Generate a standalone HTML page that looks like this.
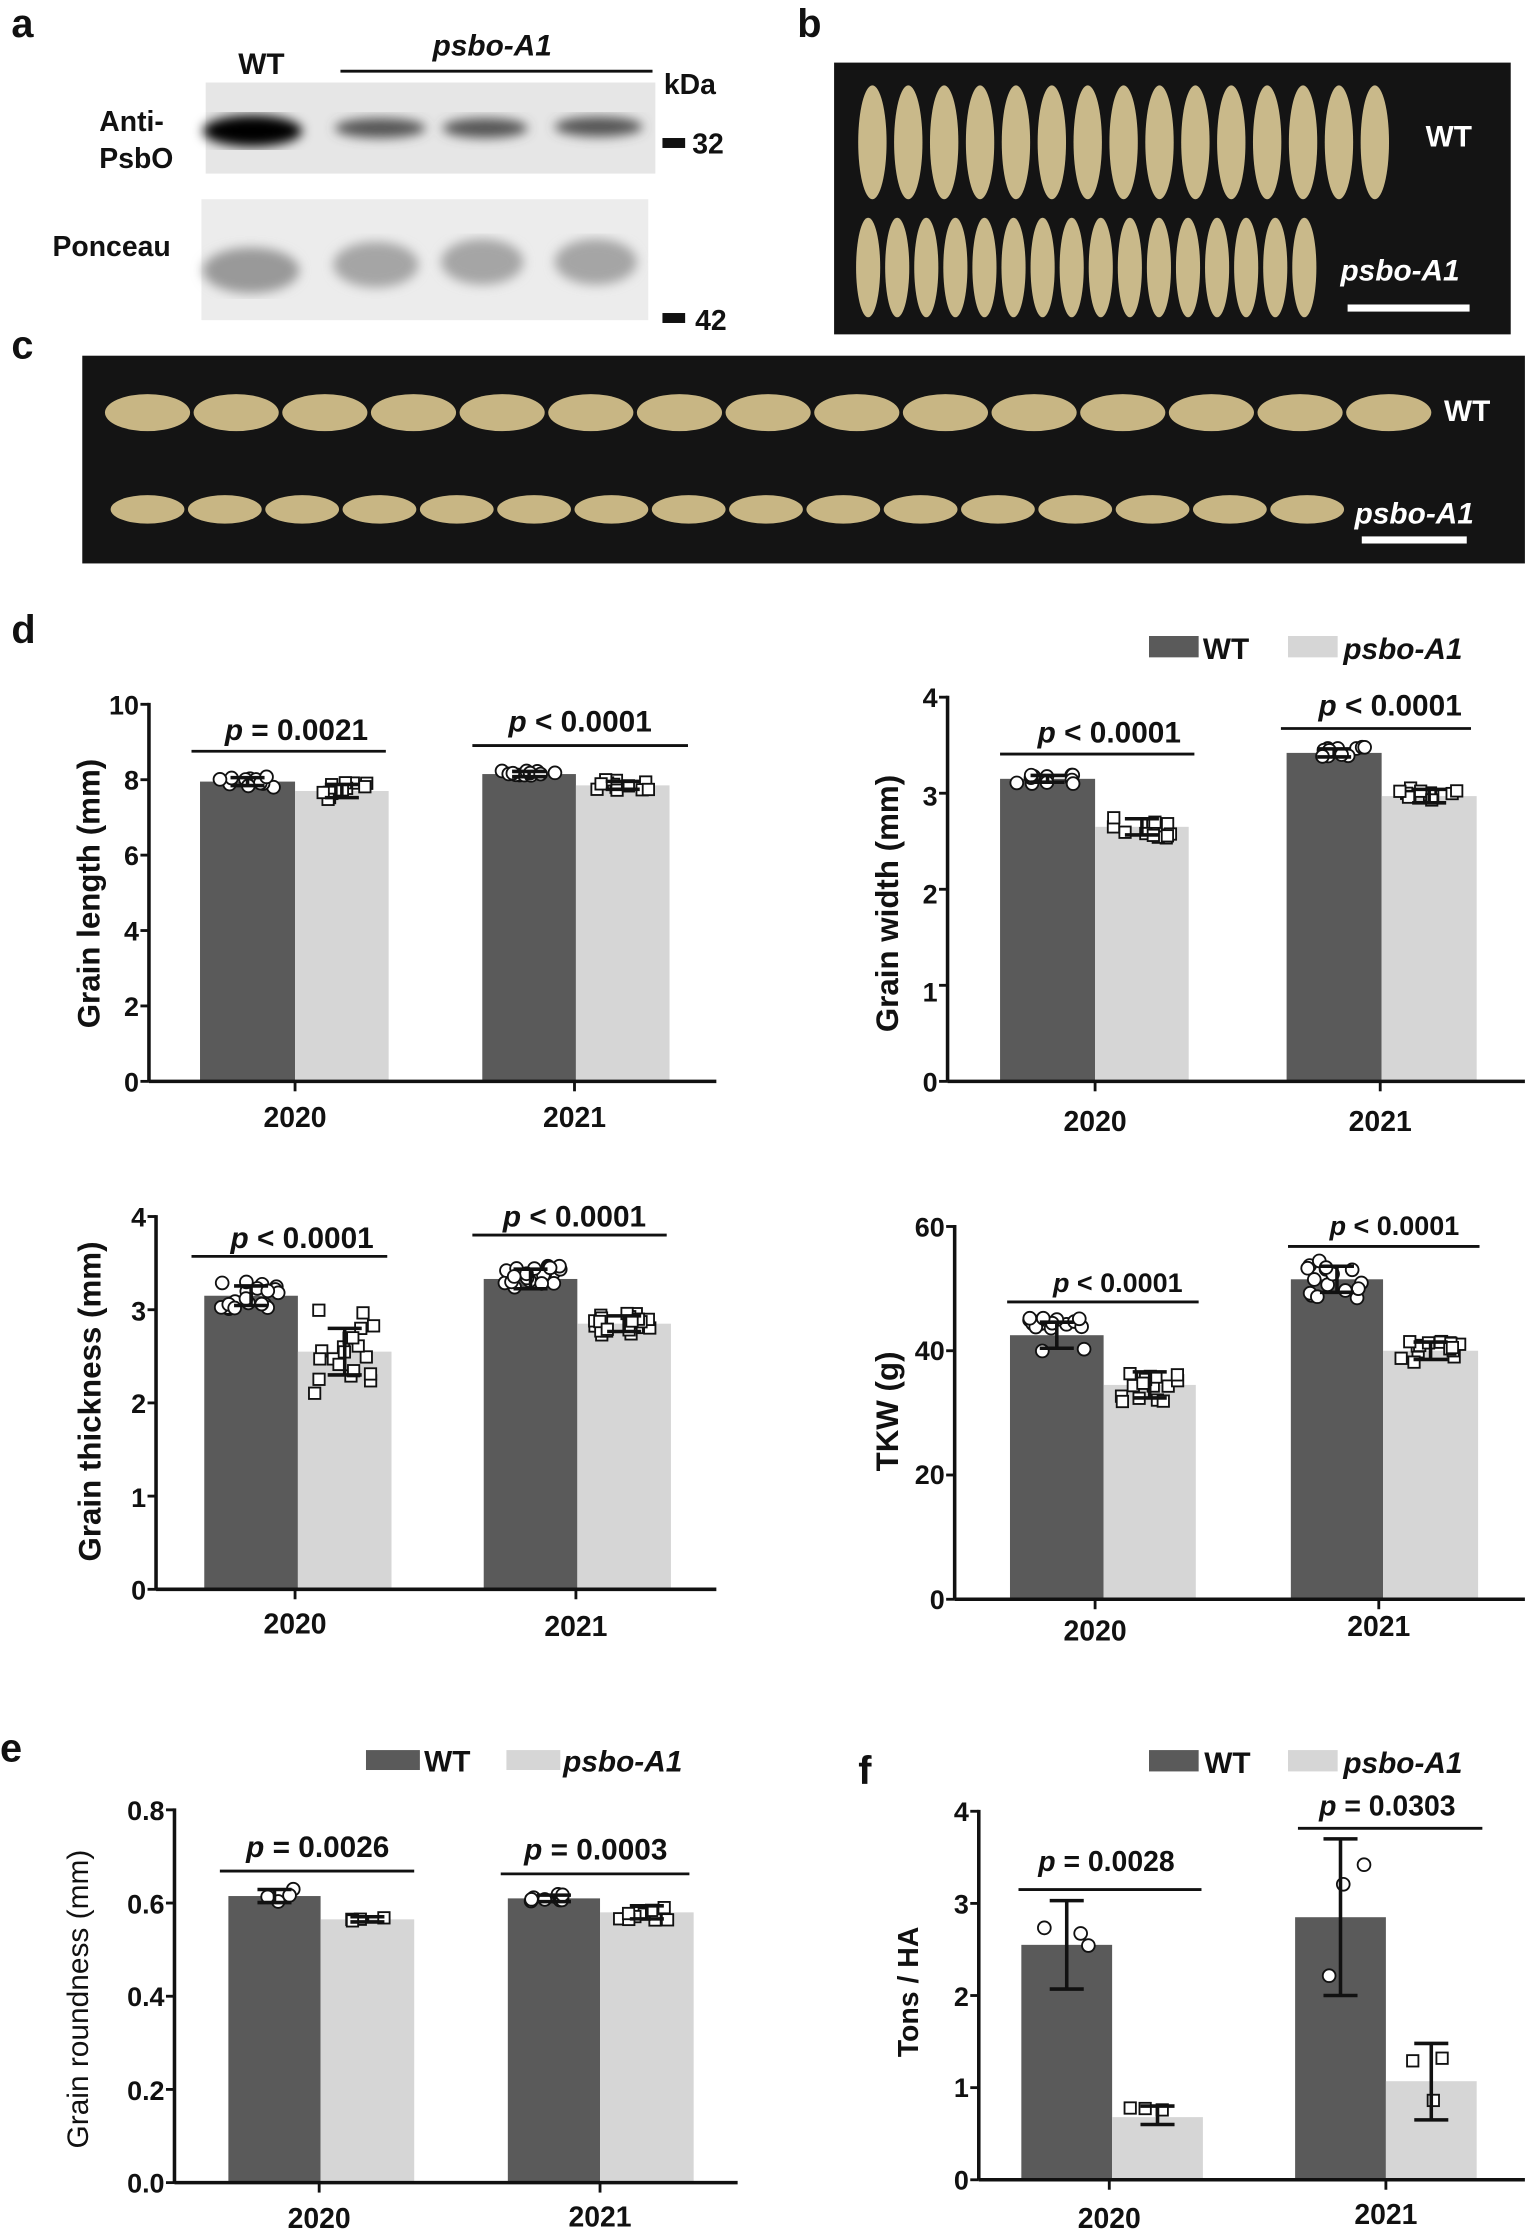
<!DOCTYPE html>
<html><head><meta charset="utf-8"><style>
html,body{margin:0;padding:0;background:#fff}
svg{display:block}
text{font-family:"Liberation Sans",Arial,sans-serif;font-weight:bold;fill:#111}
</style></head><body>
<svg id="s" width="1532" height="2231" viewBox="0 0 1080 1568" preserveAspectRatio="none" xmlns="http://www.w3.org/2000/svg">
<rect width="1080" height="1568" fill="#fff"/>
<defs><filter id="bl"><feGaussianBlur stdDeviation="4"/></filter></defs>
<text x="8" y="26" font-size="28">a</text>
<text x="168" y="52" font-size="21">WT</text>
<text x="305" y="39" font-size="21" font-style="italic">psbo-A1</text>
<line x1="240" y1="50" x2="460" y2="50" stroke="#111" stroke-width="2"/>
<text x="468" y="66" font-size="20">kDa</text>
<rect x="145" y="58" width="317" height="64" fill="#e6e6e6"/>
<g filter="url(#bl)">
<ellipse cx="178" cy="92" rx="35" ry="11" fill="#000"/>
<ellipse cx="268" cy="90" rx="32" ry="7" fill="#555"/>
<ellipse cx="342" cy="90" rx="30" ry="7" fill="#555"/>
<ellipse cx="422" cy="89" rx="31" ry="7" fill="#555"/>
</g>
<text x="70" y="92" font-size="20">Anti-</text>
<text x="70" y="118" font-size="20">PsbO</text>
<rect x="467" y="97" width="16" height="7" fill="#111"/>
<text x="488" y="108" font-size="20">32</text>
<rect x="142" y="140" width="315" height="85" fill="#ececec"/>
<g filter="url(#bl)">
<ellipse cx="177" cy="190" rx="34" ry="16" fill="#999"/>
<ellipse cx="265" cy="186" rx="30" ry="16" fill="#a5a5a5"/>
<ellipse cx="340" cy="184" rx="29" ry="16" fill="#a5a5a5"/>
<ellipse cx="420" cy="184" rx="29" ry="16" fill="#a5a5a5"/>
</g>
<text x="37" y="180" font-size="20">Ponceau</text>
<rect x="467" y="220" width="16" height="7" fill="#111"/>
<text x="490" y="232" font-size="20">42</text>
<text x="562" y="26" font-size="28">b</text>
<rect x="588" y="44" width="477" height="191" fill="#141414"/>
<g id="bg"></g>
<text x="1005" y="103" font-size="21" style="fill:#fff">WT</text>
<text x="945" y="197" font-size="21" font-style="italic" style="fill:#fff">psbo-A1</text>
<rect x="950" y="214" width="86" height="5" fill="#fff"/>
<text x="8" y="252" font-size="28">c</text>
<rect x="58" y="250" width="1017" height="146" fill="#141414"/>
<g id="cg"></g>
<text x="1018" y="296" font-size="21" style="fill:#fff">WT</text>
<text x="955" y="368" font-size="21" font-style="italic" style="fill:#fff">psbo-A1</text>
<rect x="960" y="377" width="74" height="5" fill="#fff"/>
<text x="8" y="452" font-size="28">d</text>
<rect x="810" y="447" width="35" height="15" fill="#5a5a5a"/><text x="848" y="463" font-size="21">WT</text>
<rect x="908" y="447" width="35" height="15" fill="#d6d6d6"/><text x="947" y="463" font-size="21" font-style="italic">psbo-A1</text>
<text x="0" y="0" font-size="22" transform="translate(70,628) rotate(-90)" text-anchor="middle">Grain length (mm)</text>
<text x="0" y="0" font-size="22" transform="translate(633,635) rotate(-90)" text-anchor="middle">Grain width (mm)</text>
<text x="0" y="0" font-size="22" transform="translate(71,985) rotate(-90)" text-anchor="middle">Grain thickness (mm)</text>
<text x="0" y="0" font-size="22" transform="translate(633,992) rotate(-90)" text-anchor="middle">TKW (g)</text>
<text x="209" y="520" font-size="21" text-anchor="middle"><tspan font-style="italic">p</tspan> = 0.0021</text>
<text x="409" y="514" font-size="21" text-anchor="middle"><tspan font-style="italic">p</tspan> &lt; 0.0001</text>
<text x="782" y="522" font-size="21" text-anchor="middle"><tspan font-style="italic">p</tspan> &lt; 0.0001</text>
<text x="980" y="503" font-size="21" text-anchor="middle"><tspan font-style="italic">p</tspan> &lt; 0.0001</text>
<text x="213" y="877" font-size="21" text-anchor="middle"><tspan font-style="italic">p</tspan> &lt; 0.0001</text>
<text x="405" y="862" font-size="21" text-anchor="middle"><tspan font-style="italic">p</tspan> &lt; 0.0001</text>
<text x="788" y="908" font-size="19" text-anchor="middle"><tspan font-style="italic">p</tspan> &lt; 0.0001</text>
<text x="983" y="868" font-size="19" text-anchor="middle"><tspan font-style="italic">p</tspan> &lt; 0.0001</text>
<text x="208" y="792" font-size="20" text-anchor="middle">2020</text><text x="405" y="792" font-size="20" text-anchor="middle">2021</text>
<text x="772" y="795" font-size="20" text-anchor="middle">2020</text><text x="973" y="795" font-size="20" text-anchor="middle">2021</text>
<text x="208" y="1148" font-size="20" text-anchor="middle">2020</text><text x="406" y="1150" font-size="20" text-anchor="middle">2021</text>
<text x="772" y="1153" font-size="20" text-anchor="middle">2020</text><text x="972" y="1150" font-size="20" text-anchor="middle">2021</text>
<g font-size="19" text-anchor="end">
<text x="98" y="502">10</text><text x="98" y="555">8</text><text x="98" y="608">6</text><text x="98" y="661">4</text><text x="98" y="714">2</text><text x="98" y="767">0</text>
<text x="661" y="497">4</text><text x="661" y="566">3</text><text x="661" y="635">2</text><text x="661" y="704">1</text><text x="661" y="767">0</text>
<text x="103" y="862">4</text><text x="103" y="928">3</text><text x="103" y="993">2</text><text x="103" y="1059">1</text><text x="103" y="1124">0</text>
<text x="666" y="869">60</text><text x="666" y="956">40</text><text x="666" y="1043">20</text><text x="666" y="1131">0</text>
<text x="116" y="1279">0.8</text><text x="116" y="1345">0.6</text><text x="116" y="1410">0.4</text><text x="116" y="1476">0.2</text><text x="116" y="1541">0.0</text>
<text x="683" y="1280">4</text><text x="683" y="1345">3</text><text x="683" y="1410">2</text><text x="683" y="1474">1</text><text x="683" y="1539">0</text>
</g>
<text x="0" y="1238" font-size="28">e</text>
<rect x="258" y="1230" width="38" height="14" fill="#5a5a5a"/><text x="299" y="1245" font-size="21">WT</text>
<rect x="357" y="1230" width="38" height="14" fill="#d6d6d6"/><text x="397" y="1245" font-size="21" font-style="italic">psbo-A1</text>
<text x="0" y="0" font-size="21" style="font-weight:normal" transform="translate(62,1405) rotate(-90)" text-anchor="middle">Grain roundness (mm)</text>
<text x="224" y="1305" font-size="21" text-anchor="middle"><tspan font-style="italic">p</tspan> = 0.0026</text>
<text x="420" y="1307" font-size="21" text-anchor="middle"><tspan font-style="italic">p</tspan> = 0.0003</text>
<text x="225" y="1566" font-size="20" text-anchor="middle">2020</text><text x="423" y="1565" font-size="20" text-anchor="middle">2021</text>
<text x="605" y="1254" font-size="28">f</text>
<rect x="810" y="1230" width="35" height="15" fill="#5a5a5a"/><text x="849" y="1246" font-size="21">WT</text>
<rect x="908" y="1230" width="35" height="15" fill="#d6d6d6"/><text x="947" y="1246" font-size="21" font-style="italic">psbo-A1</text>
<text x="0" y="0" font-size="20" transform="translate(647,1400) rotate(-90)" text-anchor="middle">Tons / HA</text>
<text x="780" y="1315" font-size="20" text-anchor="middle"><tspan font-style="italic">p</tspan> = 0.0028</text>
<text x="978" y="1276" font-size="20" text-anchor="middle"><tspan font-style="italic">p</tspan> = 0.0303</text>
<text x="782" y="1566" font-size="20" text-anchor="middle">2020</text><text x="977" y="1563" font-size="20" text-anchor="middle">2021</text>
<g id="charts"></g>
</svg>
<script>
var NS="http://www.w3.org/2000/svg";
function el(p,t,a){var e=document.createElementNS(NS,t);for(var k in a)e.setAttribute(k,a[k]);p.appendChild(e);return e;}
var seed=7;function rnd(){seed=(seed*16807)%2147483647;return seed/2147483647;}
var bg=document.getElementById('bg');
for(var i=0;i<15;i++){var x=615+i*25.3;el(bg,'ellipse',{cx:x,cy:100,rx:10,ry:40,fill:'#c9b98a'});}
for(var i=0;i<16;i++){var x=612+i*20.5;el(bg,'ellipse',{cx:x,cy:188,rx:8.5,ry:35,fill:'#c9b98a'});}
var cg=document.getElementById('cg');
for(var i=0;i<15;i++){var x=104+i*62.5;el(cg,'ellipse',{cx:x,cy:290,rx:30,ry:13,fill:'#c8b684'});}
for(var i=0;i<16;i++){var x=104+i*54.5;el(cg,'ellipse',{cx:x,cy:358,rx:26,ry:10,fill:'#c8b684'});}
var g=document.getElementById('charts');
function chart(c){
 var s=(c.y0-c.y1)/c.max;
 function Y(v){return c.y0-v*s;}
 c.bars.forEach(function(b){
  el(g,'rect',{x:b[0],y:Y(b[2]),width:b[1]-b[0],height:c.y0-Y(b[2]),fill:b[3]?'#d6d6d6':'#5a5a5a'});
 });
 el(g,'line',{x1:c.ax,y1:c.y1-1,x2:c.ax,y2:c.y0,stroke:'#111','stroke-width':2.5});
 el(g,'line',{x1:c.ax,y1:c.y0,x2:c.xe,y2:c.y0,stroke:'#111','stroke-width':2.5});
 for(var t=0;t<=c.nt;t++){var yy=c.y0-(c.y0-c.y1)*t/c.nt;el(g,'line',{x1:c.ax-6,y1:yy,x2:c.ax,y2:yy,stroke:'#111','stroke-width':2});}
 c.xt.forEach(function(x){el(g,'line',{x1:x,y1:c.y0,x2:x,y2:c.y0+7,stroke:'#111','stroke-width':2});});
 c.p.forEach(function(p){el(g,'line',{x1:p[0],y1:p[2],x2:p[1],y2:p[2],stroke:'#111','stroke-width':2});});
 c.bars.forEach(function(b){
  var cx=(b[0]+b[1])/2,w=b[1]-b[0],sd=b[4],n=b[5]||12;
  for(var i=0;i<n;i++){
   var v=b[2]+(rnd()-0.5)*2*sd, x=cx+(rnd()-0.5)*w*0.65;
   if(b[3])el(g,'rect',{x:x-4,y:Y(v)-4,width:8,height:8,fill:'#fff',stroke:'#111','stroke-width':1.3});
   else el(g,'circle',{cx:x,cy:Y(v),r:4.5,fill:'#fff',stroke:'#111','stroke-width':1.3});
  }
  var lo=b[6]!=null?b[6]:b[2]-sd*0.7, hi=b[7]!=null?b[7]:b[2]+sd*0.7;
  el(g,'line',{x1:cx,y1:Y(lo),x2:cx,y2:Y(hi),stroke:'#111','stroke-width':2.5});
  el(g,'line',{x1:cx-12,y1:Y(lo),x2:cx+12,y2:Y(lo),stroke:'#111','stroke-width':2.5});
  el(g,'line',{x1:cx-12,y1:Y(hi),x2:cx+12,y2:Y(hi),stroke:'#111','stroke-width':2.5});
 });
}
chart({ax:105,xe:505,y0:760,y1:495,max:10,nt:5,xt:[208,405],p:[[135,272,528],[333,485,524]],
 bars:[[141,208,7.95,0,0.15],[208,274,7.7,1,0.25],[340,406,8.15,0,0.1],[406,472,7.85,1,0.15]]});
chart({ax:668,xe:1075,y0:760,y1:490,max:4,nt:4,xt:[772,973],p:[[705,842,530],[903,1037,512]],
 bars:[[705,772,3.15,0,0.05],[772,838,2.65,1,0.12],[907,974,3.42,0,0.06],[974,1041,2.97,1,0.1]]});
chart({ax:110,xe:505,y0:1117,y1:855,max:4,nt:4,xt:[208,406],p:[[135,273,883],[333,470,868]],
 bars:[[144,210,3.15,0,0.15,20],[210,276,2.55,1,0.45,20,2.3,2.8],[341,407,3.33,0,0.15,20],[407,473,2.85,1,0.12,20]]});
chart({ax:673,xe:1075,y0:1124,y1:862,max:60,nt:3,xt:[772,972],p:[[710,845,915],[908,1043,876]],
 bars:[[712,778,42.5,0,3,16],[778,843,34.5,1,3,16],[910,975,51.5,0,3,16],[975,1042,40,1,2,16]]});
chart({ax:123,xe:520,y0:1534,y1:1272,max:0.8,nt:4,xt:[225,423],p:[[155,292,1315],[353,486,1317]],
 bars:[[161,226,0.615,0,0.02,4],[226,292,0.565,1,0.008,4],[358,423,0.61,0,0.01,10],[423,489,0.58,1,0.02,10]]});
chart({ax:690,xe:1075,y0:1532,y1:1273,max:4,nt:4,xt:[782,977],p:[[718,847,1328],[915,1045,1285]],
 bars:[[720,784,2.55,0,0.5,3,2.07,3.03],[784,848,0.68,1,0.1,3,0.6,0.8],[913,977,2.85,0,0.8,3,2.0,3.7],[977,1041,1.07,1,0.4,3,0.65,1.48]]});
</script>
</body></html>
